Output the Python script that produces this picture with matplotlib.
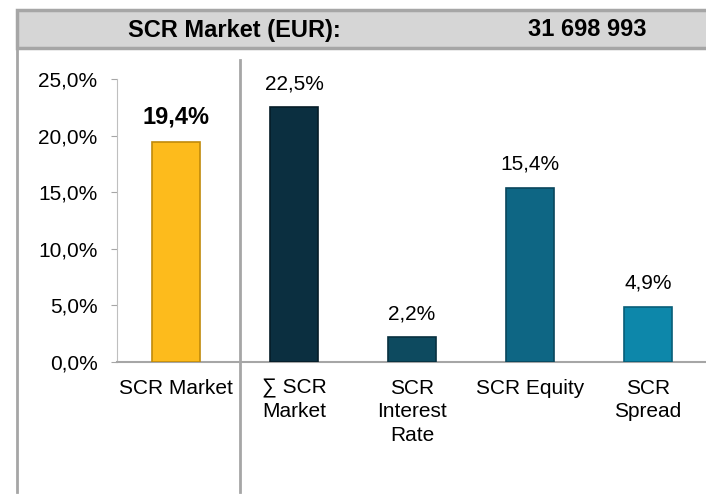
import numpy as np
import matplotlib.pyplot as plt
from matplotlib.patches import Rectangle
from matplotlib.lines import Line2D

plt.rcParams['font.family'] = ['Liberation Sans', 'DejaVu Sans']

# data
categories = ["SCR Market", "\u2211 SCR\nMarket", "SCR\nInterest\nRate", "SCR Equity", "SCR\nSpread"]
values = [19.4, 22.5, 2.2, 15.4, 4.9]
colors = ["#FDBB1C", "#0B2F40", "#0D4A5F", "#0E6684", "#0D87AA"]
edges = ["#C08A0A", "#061C27", "#07303F", "#08465C", "#085E78"]
header_label = "SCR Market (EUR):"
header_value = "31 698 993"
yticks = [0, 5, 10, 15, 20, 25]

W, H = 706, 499
fig = plt.figure(figsize=(W / 100, H / 100), dpi=100)

# header band
fig.patches.append(Rectangle((17 / W, 1 - 48 / H), 1, 38 / H, transform=fig.transFigure,
                             facecolor="#D6D6D6", edgecolor="#A6A6A6", linewidth=2.5))
fig.text(234 / W, 1 - 30 / H, header_label, ha="center", va="center", fontsize=17, fontweight="bold")
fig.text(587 / W, 1 - 30 / H, header_value, ha="center", va="center", fontsize=17, fontweight="bold")

# frame lines
fig.lines.append(Line2D([17 / W, 17 / W], [1 - 48 / H, 1 - 492 / H], transform=fig.transFigure,
                        color="#A6A6A6", linewidth=2))
fig.lines.append(Line2D([240 / W, 240 / W], [1 - 60 / H, 1 - 492 / H], transform=fig.transFigure,
                        color="#A6A6A6", linewidth=2))

ax = fig.add_axes([117 / W, (H - 362) / H, 590 / W, 283 / H])
x = np.arange(len(categories))
ax.bar(x, values, width=0.4, color=colors, edgecolor=edges, linewidth=1.2, zorder=3)

for i, v in enumerate(values):
    lbl = f"{v:.1f}%".replace(".", ",")
    ax.annotate(lbl, (x[i], v), xytext=(0, 10), textcoords="offset points",
                ha="center", va="bottom", fontsize=17 if i == 0 else 15,
                fontweight="bold" if i == 0 else "normal")

ax.set_xlim(-0.5, 4.5)
ax.set_ylim(0, 25)
ax.set_yticks(yticks)
ax.set_yticklabels([f"{t:.1f}%".replace(".", ",") for t in yticks], fontsize=15)
ax.set_xticks(x)
ax.set_xticklabels(categories, fontsize=15, va="top", linespacing=1.3)
ax.tick_params(axis="x", length=0, pad=12)
ax.tick_params(axis="y", length=4, color="#A6A6A6", pad=10)
for s in ["top", "right"]:
    ax.spines[s].set_visible(False)
ax.spines["left"].set_color("#BFBFBF")
ax.spines["bottom"].set_color("#A6A6A6")
ax.spines["bottom"].set_linewidth(1.5)

fig.savefig("out.png", dpi=100)
